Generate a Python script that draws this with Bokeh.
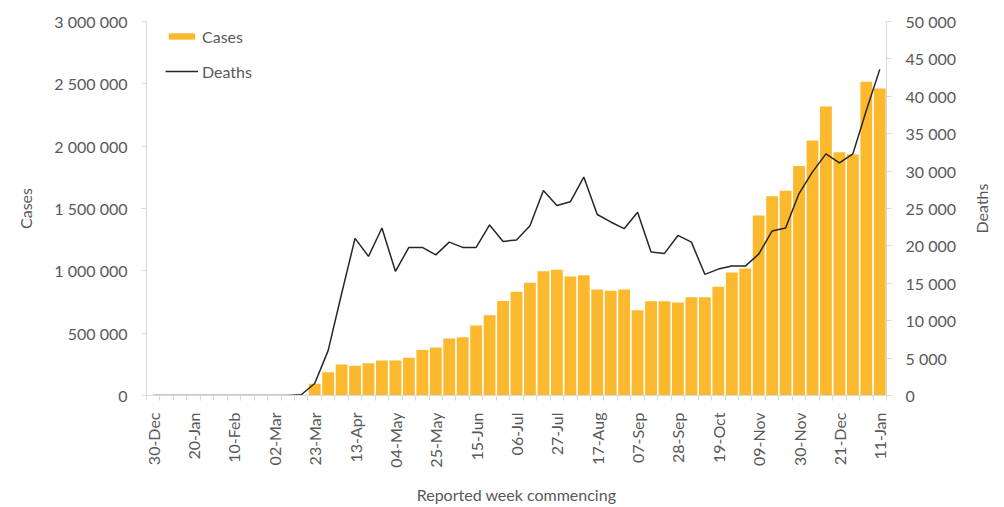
import math
import pandas as pd
from bokeh.plotting import figure
from bokeh.models import (ColumnDataSource, Range1d, LinearAxis, FixedTicker,
                          CustomJSTickFormatter, Legend, LegendItem, Label)
from bokeh.embed import file_html
from bokeh.resources import INLINE

# Weekly reporting periods (week commencing), 30 Dec 2019 .. 11 Jan 2021
weeks = [d.strftime("%d-%b") for d in pd.date_range("2019-12-30", periods=55, freq="7D")]

cases = [
    0, 0, 0, 0, 0, 0, 0, 0, 0, 0, 0, 6000,
    94000, 187000, 249000, 238000, 259000, 281000, 281000, 302000, 364000, 385000,
    457000, 468000, 561000, 644000, 759000, 832000, 904000, 997000, 1008000, 955000,
    965000, 850000, 840000, 850000, 684000, 757000, 757000, 746000, 789000, 789000,
    872000, 987000, 1019000, 1444000, 1599000, 1642000, 1840000, 2045000, 2318000,
    1952000, 1933000, 2516000, 2463000,
]

deaths = [
    0, 0, 0, 0, 0, 0, 0, 0, 0, 0, 0, 100,
    1600, 6000, 13600, 21000, 18600, 22400, 16600, 19800, 19800, 18800,
    20500, 19800, 19800, 22800, 20600, 20800, 22700, 27400, 25400, 25900,
    29200, 24200, 23200, 22300, 24500, 19200, 19000, 21400, 20500, 16200,
    16900, 17300, 17300, 18900, 22000, 22400, 27000, 29900, 32300,
    31100, 32300, 38100, 43600,
]

case_ticks = [0, 500000, 1000000, 1500000, 2000000, 2500000, 3000000]
death_ticks = [0, 5000, 10000, 15000, 20000, 25000, 30000, 35000, 40000, 45000, 50000]

FONT = "Lato"
TEXT = "#595959"
AXIS = "#d9d9d9"

idx = list(range(len(weeks)))
src = ColumnDataSource(dict(x=idx, cases=cases, deaths=deaths))

p = figure(width=1004, height=507,
           x_range=Range1d(-0.5, len(weeks) - 0.5),
           y_range=Range1d(0, 3000000),
           output_backend="svg", toolbar_location=None,
           min_border_left=146, min_border_right=118,
           min_border_top=21, min_border_bottom=112)
p.extra_y_ranges = {"deaths": Range1d(0, 50000)}
p.xgrid.visible = False
p.ygrid.visible = False
p.outline_line_color = None
p.background_fill_color = "white"
p.border_fill_color = "white"

space_fmt = CustomJSTickFormatter(code=r"""
    return Math.round(tick).toString().replace(/\B(?=(\d{3})+(?!\d))/g, ' ');
""")

bars = p.vbar(x="x", top="cases", width=0.88, fill_color="#FDB92E",
              line_color=None, source=src)
line = p.line(x="x", y="deaths", y_range_name="deaths", line_color="#262626",
              line_width=1.5, source=src)

# x axis: labels every third week, tick marks between bars
xa = p.xaxis[0]
label_pos = idx[::3]
xa.ticker = FixedTicker(ticks=label_pos,
                        minor_ticks=[i - 0.5 for i in range(len(weeks) + 1)])
xa.major_label_overrides = {i: weeks[i] for i in label_pos}
xa.major_label_orientation = math.pi / 2
xa.major_tick_out = 0
xa.major_tick_in = 0
xa.minor_tick_out = 5
xa.minor_tick_in = 0
xa.minor_tick_line_color = AXIS
xa.major_label_standoff = 12
xa.axis_label = "Reported week commencing"
xa.axis_label_standoff = 14

# left axis: cases
ya = p.yaxis[0]
ya.ticker = FixedTicker(ticks=case_ticks)
ya.formatter = space_fmt
ya.axis_label = "Cases"
ya.major_tick_out = 5
ya.major_tick_in = 0
ya.minor_tick_line_color = None
ya.major_label_standoff = 14
ya.axis_label_standoff = 16

# right axis: deaths
ra = LinearAxis(y_range_name="deaths", ticker=FixedTicker(ticks=death_ticks),
                formatter=space_fmt)
ra.major_tick_out = 5
ra.major_tick_in = 0
ra.minor_tick_line_color = None
ra.major_label_standoff = 14
p.add_layout(ra, "right")

for ax in (xa, ya, ra):
    ax.axis_line_color = AXIS
    ax.major_tick_line_color = AXIS
    ax.major_label_text_font = FONT
    ax.major_label_text_font_size = "16px"
    ax.major_label_text_color = TEXT
    ax.axis_label_text_font = FONT
    ax.axis_label_text_font_size = "16px"
    ax.axis_label_text_font_style = "normal"
    ax.axis_label_text_color = TEXT

# right-hand axis title in its own side panel, reading bottom-to-top
deaths_title = Label(x=23, y=187, x_units="screen", y_units="screen",
                     text="Deaths", angle=math.pi / 2,
                     text_align="center", text_baseline="middle",
                     text_font=FONT, text_font_size="16px", text_color=TEXT)
p.add_layout(deaths_title, "right")

legend = Legend(items=[LegendItem(label="Cases", renderers=[bars]),
                       LegendItem(label="Deaths", renderers=[line])],
                location=(19, 314), margin=0, padding=0, spacing=15,
                glyph_width=33, glyph_height=8, label_height=20,
                label_standoff=4,
                label_text_font=FONT, label_text_font_size="16px",
                label_text_color=TEXT,
                border_line_color=None, background_fill_alpha=0)
p.add_layout(legend)

open("out.html", "w").write(file_html(p, INLINE))
